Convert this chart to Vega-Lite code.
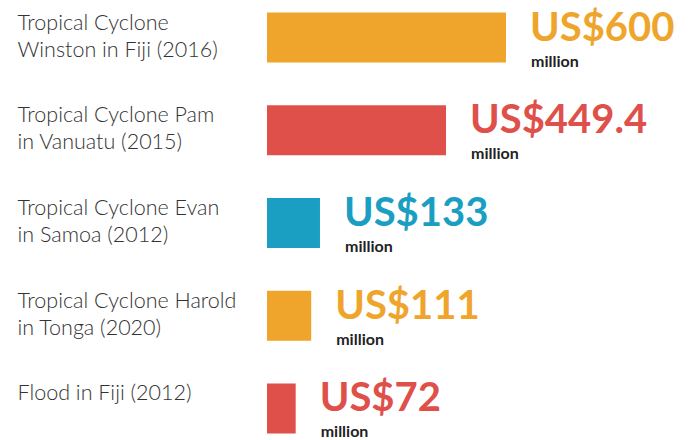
{
  "$schema": "https://vega.github.io/schema/vega-lite/v6.json",
  "autosize": "none",
  "width": 239,
  "height": 434,
  "padding": {"left": 267, "top": 6, "right": 184, "bottom": 0},
  "background": "white",
  "config": {"view": {"stroke": null}, "font": "Lato"},
  "data": {
    "values": [
      {"event": "Tropical Cyclone|Winston in Fiji (2016)", "value": 600},
      {"event": "Tropical Cyclone Pam|in Vanuatu (2015)", "value": 449.4},
      {"event": "Tropical Cyclone Evan|in Samoa (2012)", "value": 133},
      {"event": "Tropical Cyclone Harold|in Tonga (2020)", "value": 111},
      {"event": "Flood in Fiji (2012)", "value": 72}
    ]
  },
  "transform": [{"calculate": "'US$' + datum.value", "as": "amount"}],
  "encoding": {
    "y": {
      "field": "event",
      "type": "nominal",
      "sort": null,
      "scale": {"paddingInner": 0.46, "paddingOuter": 0.07},
      "axis": {
        "title": null,
        "domain": false,
        "ticks": false,
        "labelExpr": "split(datum.value, '|')",
        "labelAlign": "left",
        "labelBaseline": "top",
        "labelOffset": -25,
        "labelPadding": 250,
        "labelFontSize": 21.5,
        "labelFontWeight": 300,
        "labelLineHeight": 27,
        "labelColor": "#333333",
        "labelFont": "Lato",
        "labelLimit": 300
      }
    },
    "x": {
      "field": "value",
      "type": "quantitative",
      "scale": {"domain": [0, 600], "nice": false},
      "axis": null
    },
    "color": {
      "field": "event",
      "type": "nominal",
      "sort": null,
      "scale": {"range": ["#EFA52B", "#E0504B", "#1A9EC1", "#EFA52B", "#E0504B"]},
      "legend": null
    }
  },
  "layer": [
    {"mark": {"type": "bar"}},
    {
      "mark": {"type": "text", "align": "left", "baseline": "alphabetic", "dx": 24, "dy": 3, "fontSize": 40, "fontWeight": "bold", "font": "Lato"},
      "encoding": {"text": {"field": "amount"}}
    },
    {
      "mark": {"type": "text", "align": "left", "baseline": "alphabetic", "dx": 25, "dy": 29, "fontSize": 16, "fontWeight": "bold", "font": "Lato", "text": "million"},
      "encoding": {"color": {"value": "#222222"}}
    }
  ]
}
